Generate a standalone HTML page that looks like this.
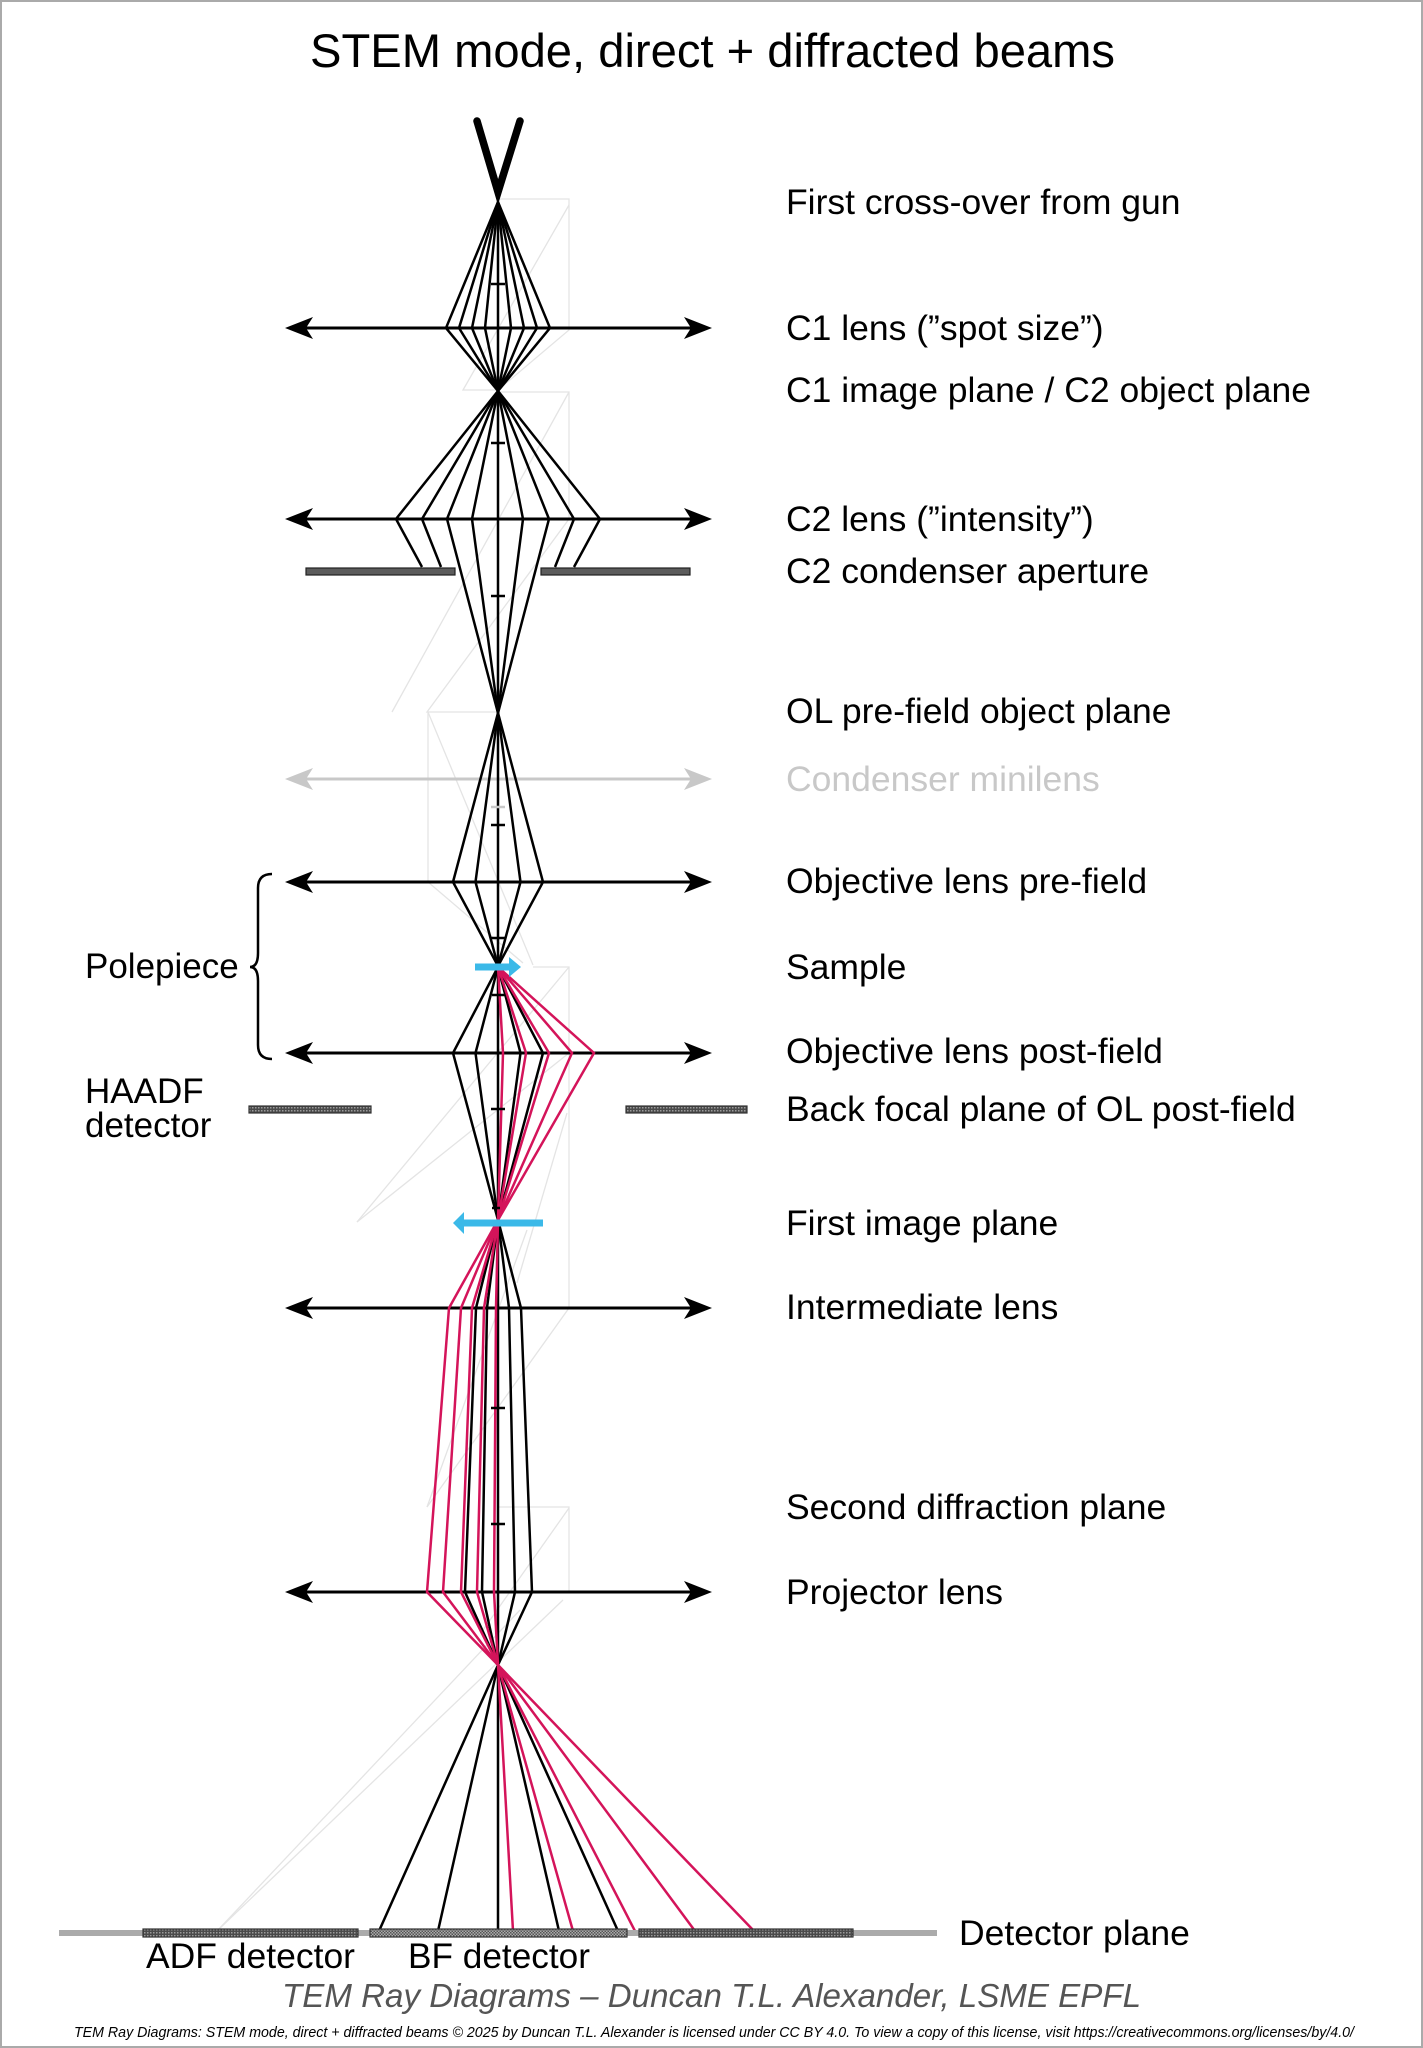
<!DOCTYPE html>
<html>
<head>
<meta charset="utf-8">
<style>
  html,body{margin:0;padding:0;background:#fff;}
  svg{display:block;}
  text{font-family:"Liberation Sans", Arial, sans-serif;}
</style>
</head>
<body>
<svg width="1423" height="2048" viewBox="0 0 1423 2048" xmlns="http://www.w3.org/2000/svg">
  <defs>
    <pattern id="hatch" width="3" height="3" patternUnits="userSpaceOnUse">
      <rect width="3" height="3" fill="#4a4a4a"/>
      <rect width="1.5" height="1.5" fill="#9a9a9a"/>
    </pattern>
    <pattern id="hatch2" width="3" height="3" patternUnits="userSpaceOnUse">
      <rect width="3" height="3" fill="#555"/>
      <rect x="1.5" y="0" width="1.5" height="1.5" fill="#aaa"/>
      <rect x="0" y="1.5" width="1.5" height="1.5" fill="#aaa"/>
    </pattern>
  </defs>

  <rect x="0" y="0" width="1423" height="2048" fill="#fff"/>
  <rect x="1" y="1" width="1421" height="2046" fill="none" stroke="#aaa" stroke-width="2"/>

  <!-- Title -->
  <text x="310" y="67" font-size="47" textLength="805" lengthAdjust="spacingAndGlyphs" fill="#000">STEM mode, direct + diffracted beams</text>

  <!-- Ghost construction lines -->
  <g fill="none" stroke="#e4e4e4" stroke-width="1.3">
    <polyline points="498,199 569,199 569,330 498,390"/>
    <polyline points="569,205 463,390 498,390"/>
    <polyline points="498,392 569,392 569,519 427,712 498,712"/>
    <line x1="569" y1="392" x2="392" y2="712"/>
    <polyline points="428,712 428,882 523,963"/>
    <line x1="428" y1="712" x2="533" y2="965"/>
    <polyline points="533,967 569,967 569,1308 427,1507"/>
    <line x1="569" y1="967" x2="357" y2="1222"/>
    <line x1="569" y1="1053" x2="357" y2="1222"/>
    <line x1="567" y1="1113" x2="517" y2="1283"/>
    <line x1="527" y1="1230" x2="427" y2="1507"/>
    <polyline points="498,1507 569,1507 569,1592"/>
    <line x1="569" y1="1508" x2="483" y2="1630"/>
    <line x1="563" y1="1600" x2="218" y2="1930"/>
    <line x1="520" y1="1610" x2="218" y2="1930"/>
  </g>

  <!-- Gun -->
  <polyline points="477,121 498,192 520,121" fill="none" stroke="#000" stroke-width="7.5" stroke-linecap="round" stroke-linejoin="miter"/>

  <!-- Lens arrows -->
  <g id="lenses">
    <line x1="300" y1="328" x2="697" y2="328" stroke="#000" stroke-width="3"/>
    <polygon points="285,328 313,317 306,328 313,339" fill="#000"/>
    <polygon points="712,328 684,317 691,328 684,339" fill="#000"/>
    <line x1="300" y1="519" x2="697" y2="519" stroke="#000" stroke-width="3"/>
    <polygon points="285,519 313,508 306,519 313,530" fill="#000"/>
    <polygon points="712,519 684,508 691,519 684,530" fill="#000"/>
    <line x1="300" y1="779" x2="697" y2="779" stroke="#c8c8c8" stroke-width="3"/>
    <polygon points="285,779 313,768 306,779 313,790" fill="#c8c8c8"/>
    <polygon points="712,779 684,768 691,779 684,790" fill="#c8c8c8"/>
    <line x1="300" y1="882" x2="697" y2="882" stroke="#000" stroke-width="3"/>
    <polygon points="285,882 313,871 306,882 313,893" fill="#000"/>
    <polygon points="712,882 684,871 691,882 684,893" fill="#000"/>
    <line x1="300" y1="1053" x2="697" y2="1053" stroke="#000" stroke-width="3"/>
    <polygon points="285,1053 313,1042 306,1053 313,1064" fill="#000"/>
    <polygon points="712,1053 684,1042 691,1053 684,1064" fill="#000"/>
    <line x1="300" y1="1308" x2="697" y2="1308" stroke="#000" stroke-width="3"/>
    <polygon points="285,1308 313,1297 306,1308 313,1319" fill="#000"/>
    <polygon points="712,1308 684,1297 691,1308 684,1319" fill="#000"/>
    <line x1="300" y1="1592" x2="697" y2="1592" stroke="#000" stroke-width="3"/>
    <polygon points="285,1592 313,1581 306,1592 313,1603" fill="#000"/>
    <polygon points="712,1592 684,1581 691,1592 684,1603" fill="#000"/>
  </g>

  <!-- C2 aperture -->
  <rect x="306" y="568" width="149" height="7" fill="#5c5c5c" stroke="#222" stroke-width="1.2"/>
  <rect x="541" y="568" width="149" height="7" fill="#5c5c5c" stroke="#222" stroke-width="1.2"/>

  <!-- HAADF detector bars -->
  <rect x="249" y="1106" width="122" height="7" fill="url(#hatch)" stroke="#333" stroke-width="1.2"/>
  <rect x="626" y="1106" width="121" height="7" fill="url(#hatch)" stroke="#333" stroke-width="1.2"/>

  <!-- Black rays -->
  <g fill="none" stroke="#000" stroke-width="2.5" stroke-linejoin="miter">
    <polyline points="498,202 446,328 498,391"/>
    <polyline points="498,202 459,328 498,391"/>
    <polyline points="498,202 472,328 498,391"/>
    <polyline points="498,202 485,328 498,391"/>
    <polyline points="498,202 498,328 498,391"/>
    <polyline points="498,202 511,328 498,391"/>
    <polyline points="498,202 524,328 498,391"/>
    <polyline points="498,202 537,328 498,391"/>
    <polyline points="498,202 550,328 498,391"/>
    <polyline points="498,391 396,519 422,567"/>
    <polyline points="498,391 422,519 441,567"/>
    <polyline points="498,391 447,519 498,713"/>
    <polyline points="498,391 472,519 498,713"/>
    <polyline points="498,391 498,519 498,713"/>
    <polyline points="498,391 523,519 498,713"/>
    <polyline points="498,391 549,519 498,713"/>
    <polyline points="498,391 574,519 555,567"/>
    <polyline points="498,391 600,519 574,567"/>
    <polyline points="498,713 453,882 498,966"/>
    <polyline points="498,713 475.5,882 498,966"/>
    <polyline points="498,713 498,882 498,966"/>
    <polyline points="498,713 520.5,882 498,966"/>
    <polyline points="498,713 543,882 498,966"/>
    <polyline points="498,967 453,1053 498,1220"/>
    <polyline points="498,967 475.5,1053 498,1220"/>
    <polyline points="498,967 498,1053 498,1220"/>
    <polyline points="498,967 520.5,1053 498,1220"/>
    <polyline points="498,967 543,1053 498,1220"/>
    <polyline points="498,1220 476,1308 465,1592 498,1665 618,1931"/>
    <polyline points="498,1220 487,1308 482,1592 498,1665 559,1931"/>
    <polyline points="498,1220 498,1308 498,1592 498,1665 498,1931"/>
    <polyline points="498,1220 509,1308 515,1592 498,1665 438,1931"/>
    <polyline points="498,1220 521,1308 532,1592 498,1665 379,1931"/>
  </g>

  <!-- Red (diffracted) rays -->
  <g fill="none" stroke="#d4145a" stroke-width="2.5" stroke-linejoin="miter">
    <polyline points="498,967 503,1053 498,1220"/>
    <polyline points="498,967 526,1053 498,1220"/>
    <polyline points="498,967 549,1053 498,1220"/>
    <polyline points="498,967 572,1053 498,1220"/>
    <polyline points="498,967 594,1053 498,1220"/>
    <polyline points="498,1220 449,1308 427,1592 498,1665 754,1931"/>
    <polyline points="498,1220 461,1308 443,1592 498,1665 695,1931"/>
    <polyline points="498,1220 472,1308 461,1592 498,1665 635,1931"/>
    <polyline points="498,1220 484,1308 477,1592 498,1665 573,1931"/>
    <polyline points="498,1220 496,1308 494,1592 498,1665 513,1931"/>
  </g>

  <!-- Ticks -->
  <g stroke="#000" stroke-width="2.5">
    <line x1="491" y1="284" x2="505" y2="284"/>
    <line x1="491" y1="443" x2="505" y2="443"/>
    <line x1="491" y1="596" x2="505" y2="596"/>
    <line x1="491" y1="825" x2="505" y2="825"/>
    <line x1="491" y1="938" x2="505" y2="938"/>
    <line x1="492" y1="995" x2="505" y2="995"/>
    <line x1="491" y1="1109" x2="505" y2="1109"/>
    <line x1="492" y1="1208" x2="500" y2="1208"/>
    <line x1="491" y1="1408" x2="505" y2="1408"/>
    <line x1="491" y1="1524" x2="505" y2="1524"/>
  </g>
  <line x1="491" y1="807" x2="505" y2="807" stroke="#c8c8c8" stroke-width="2.5"/>

  <!-- Blue arrows -->
  <line x1="475" y1="967" x2="511" y2="967" stroke="#3bb9e8" stroke-width="7"/>
  <polygon points="509,957 521,967 509,977" fill="#3bb9e8"/>
  <line x1="462" y1="1223" x2="543" y2="1223" stroke="#3bb9e8" stroke-width="7"/>
  <polygon points="464,1212 453,1223 464,1234" fill="#3bb9e8"/>

  <!-- Polepiece brace -->
  <path d="M272,874 Q258,874 258,888 L258,953 Q258,967 250,967 Q258,967 258,981 L258,1045 Q258,1059 272,1059" fill="none" stroke="#000" stroke-width="2.5"/>

  <!-- Detector plane -->
  <line x1="59" y1="1933" x2="937" y2="1933" stroke="#ababab" stroke-width="6"/>
  <rect x="143" y="1929" width="215" height="8" fill="url(#hatch)" stroke="#333" stroke-width="1.2"/>
  <rect x="370" y="1929" width="257" height="8" fill="url(#hatch2)" stroke="#333" stroke-width="1.2"/>
  <rect x="639" y="1929" width="214" height="8" fill="url(#hatch)" stroke="#333" stroke-width="1.2"/>

  <!-- Right labels -->
  <g font-size="35.5" fill="#000">
    <text x="786" y="214">First cross-over from gun</text>
    <text x="786" y="340">C1 lens (”spot size”)</text>
    <text x="786" y="402">C1 image plane / C2 object plane</text>
    <text x="786" y="531">C2 lens (”intensity”)</text>
    <text x="786" y="583">C2 condenser aperture</text>
    <text x="786" y="723">OL pre-field object plane</text>
    <text x="786" y="791" fill="#c8c8c8">Condenser minilens</text>
    <text x="786" y="893">Objective lens pre-field</text>
    <text x="786" y="979">Sample</text>
    <text x="786" y="1063">Objective lens post-field</text>
    <text x="786" y="1121">Back focal plane of OL post-field</text>
    <text x="786" y="1235">First image plane</text>
    <text x="786" y="1319">Intermediate lens</text>
    <text x="786" y="1519">Second diffraction plane</text>
    <text x="786" y="1604">Projector lens</text>
    <text x="959" y="1945">Detector plane</text>
  </g>

  <!-- Left labels -->
  <g font-size="35" fill="#000">
    <text x="85" y="978">Polepiece</text>
    <text x="85" y="1103">HAADF</text>
    <text x="85" y="1137">detector</text>
    <text x="146" y="1968" textLength="209" lengthAdjust="spacingAndGlyphs">ADF detector</text>
    <text x="408" y="1968" textLength="182" lengthAdjust="spacingAndGlyphs">BF detector</text>
  </g>

  <!-- Footer -->
  <text x="282" y="2007" font-size="33" font-style="italic" fill="#555" textLength="859" lengthAdjust="spacingAndGlyphs">TEM Ray Diagrams – Duncan T.L. Alexander, LSME EPFL</text>
  <text x="74" y="2037" font-size="14.5" font-style="italic" fill="#000" textLength="1280" lengthAdjust="spacingAndGlyphs">TEM Ray Diagrams: STEM mode, direct + diffracted beams © 2025 by Duncan T.L. Alexander is licensed under CC BY 4.0. To view a copy of this license, visit https://creativecommons.org/licenses/by/4.0/</text>
</svg>
</body>
</html>
